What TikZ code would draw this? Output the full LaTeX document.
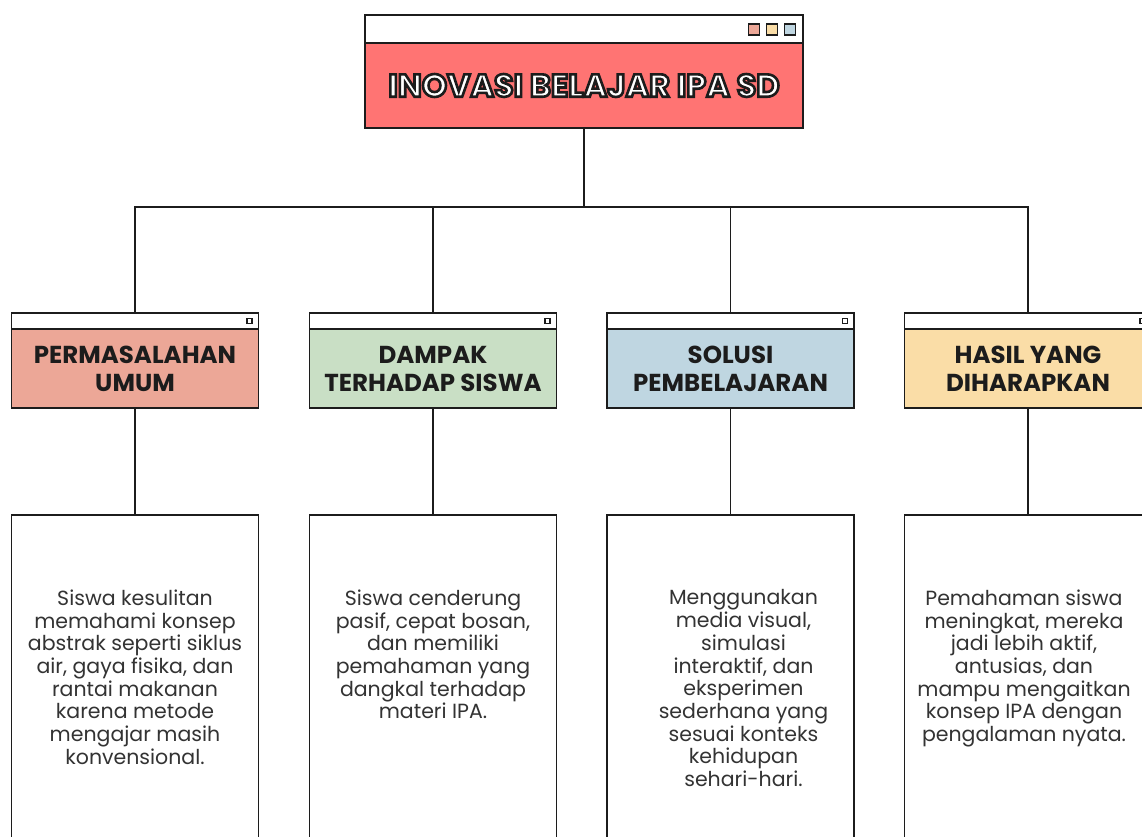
\documentclass[tikz,border=0pt]{standalone}
\usepackage{fontspec}
\setmainfont{Poppins}
\usepackage{tikz}
\usetikzlibrary{positioning,calc}

\definecolor{titlered}{HTML}{FF7473}
\definecolor{masalahred}{HTML}{ECA797}
\definecolor{dampakgreen}{HTML}{C9DFC5}
\definecolor{solusiblue}{HTML}{BFD6E1}
\definecolor{hasilyellow}{HTML}{FADDA7}
\definecolor{inkgray}{HTML}{333333}
\definecolor{inkblack}{HTML}{1C1C1C}

% weisse Schrift mit dunklem Rand
\newcommand{\outlined}[1]{\textcolor{white}{\special{pdf:literal direct 2 Tr 2.6 w 0.11 0.11 0.11 RG}#1\special{pdf:literal direct 0 Tr}}}

\begin{document}
\begin{tikzpicture}[x=1pt, y=-1pt, line width=1.6pt,
                    bar/.style={draw=inkblack, fill=white, minimum width=247pt, minimum height=16pt, inner sep=0pt, outer sep=0pt},
                    head/.style={draw=inkblack, minimum width=247pt, minimum height=79pt, inner sep=0pt, outer sep=0pt,
                                 align=center, text=inkblack, font=\fontsize{24.5}{28}\selectfont\bfseries},
                    infobox/.style={draw=inkblack, fill=white, minimum width=247pt, minimum height=345pt, inner sep=0pt, outer sep=0pt},
                    infotext/.style={align=center, text=inkgray, inner sep=0pt, font=\fontsize{20.5}{22.7}\selectfont},
                    dot/.style={draw=inkblack, line width=1.1pt, minimum size=11pt, inner sep=0pt},
                    minidot/.style={draw=inkblack, fill=white, line width=1.3pt, minimum size=5pt, inner sep=0pt},
                    link/.style={draw=inkblack, line width=1.5pt}]

    \path[use as bounding box, fill=white] (0,0) rectangle (1142,836);
    \clip (0,0) rectangle (1142,836);

    % judul
    \node[bar, minimum width=438pt, minimum height=28pt] (topbar) at (584,29) {};
    \node[head, fill=titlered, minimum width=438pt, minimum height=85pt, below=0pt of topbar,
          font=\fontsize{32}{36}\selectfont\bfseries] (title)
        {\outlined{INOVASI BELAJAR IPA SD}};
    \node[dot, fill=masalahred] (sq1) at (754,29.5) {};
    \node[dot, fill=hasilyellow, right=6pt of sq1] (sq2) {};
    \node[dot, fill=solusiblue, right=6pt of sq2] (sq3) {};

    % kategori
    \node[bar] (bar1) at (135,321) {};
    \node[bar] (bar2) at (433,321) {};
    \node[bar] (bar3) at (730.5,321) {};
    \node[bar] (bar4) at (1028,321) {};
    \node[minidot, left=6pt of bar1.east] (mini1) {};
    \node[minidot, left=6pt of bar2.east] (mini2) {};
    \node[minidot, left=6pt of bar3.east] (mini3) {};
    \node[minidot, left=6pt of bar4.east] (mini4) {};

    \node[head, fill=masalahred, below=0pt of bar1] (head1) {PERMASALAHAN\\UMUM};
    \node[head, fill=dampakgreen, below=0pt of bar2] (head2) {DAMPAK\\TERHADAP SISWA};
    \node[head, fill=solusiblue, below=0pt of bar3] (head3) {SOLUSI\\PEMBELAJARAN};
    \node[head, fill=hasilyellow, below=0pt of bar4] (head4) {HASIL YANG\\DIHARAPKAN};

    % isi
    \node[infobox, below=107pt of head1] (box1) {};
    \node[infobox, below=107pt of head2] (box2) {};
    \node[infobox, below=107pt of head3] (box3) {};
    \node[infobox, below=107pt of head4] (box4) {};

    \node[infotext, below=74pt of box1.north] (text1)
        {Siswa kesulitan\\memahami konsep\\abstrak seperti siklus\\air, gaya fisika, dan\\rantai makanan\\karena metode\\mengajar masih\\konvensional.};
    \node[infotext, below=74pt of box2.north] (text2)
        {Siswa cenderung\\pasif, cepat bosan,\\dan memiliki\\pemahaman yang\\dangkal terhadap\\materi IPA.};
    \node[infotext, below=74pt of box3.north, xshift=13pt] (text3)
        {Menggunakan\\media visual,\\simulasi\\interaktif, dan\\eksperimen\\sederhana yang\\sesuai konteks\\kehidupan\\sehari-hari.};
    \node[infotext, below=74pt of box4.north, xshift=-4pt] (text4)
        {Pemahaman siswa\\meningkat, mereka\\jadi lebih aktif,\\antusias, dan\\mampu mengaitkan\\konsep IPA dengan\\pengalaman nyata.};

    % garis
    \coordinate (hub) at ($(topbar.south)+(0,164)$);
    \draw[link] (title.south) -- (hub);
    \draw[link] (hub) -| (bar1.north);
    \draw[link] (hub) -| (bar2.north);
    \draw[link] (hub) -| (bar3.north);
    \draw[link] (hub) -| (bar4.north);
    \draw[link] (head1.south) -- (box1.north);
    \draw[link] (head2.south) -- (box2.north);
    \draw[link] (head3.south) -- (box3.north);
    \draw[link] (head4.south) -- (box4.north);
\end{tikzpicture}
\end{document}
